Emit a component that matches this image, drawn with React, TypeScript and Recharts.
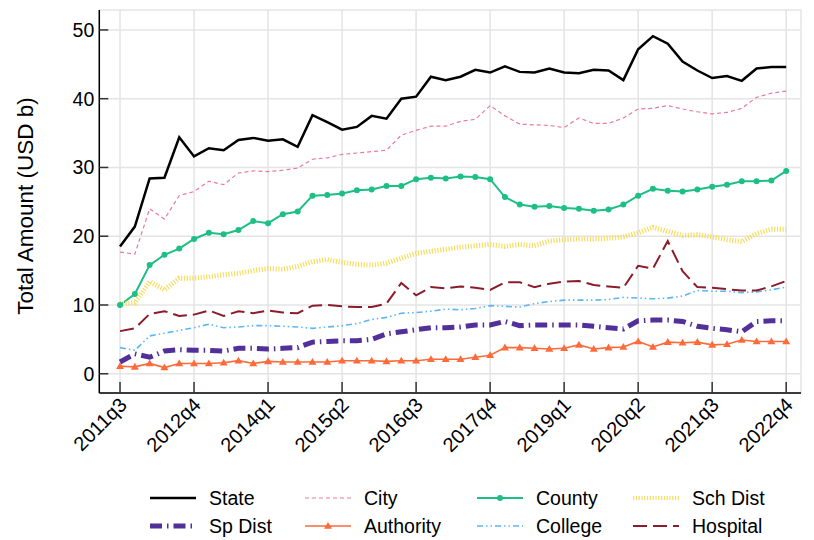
import { LineChart, Line, XAxis, YAxis, CartesianGrid } from 'recharts';

const QUARTERS = [
  '2011q3', '2011q4', '2012q1', '2012q2', '2012q3', '2012q4', '2013q1', '2013q2', '2013q3', '2013q4',
  '2014q1', '2014q2', '2014q3', '2014q4', '2015q1', '2015q2', '2015q3', '2015q4', '2016q1', '2016q2',
  '2016q3', '2016q4', '2017q1', '2017q2', '2017q3', '2017q4', '2018q1', '2018q2', '2018q3', '2018q4',
  '2019q1', '2019q2', '2019q3', '2019q4', '2020q1', '2020q2', '2020q3', '2020q4', '2021q1', '2021q2',
  '2021q3', '2021q4', '2022q1', '2022q2', '2022q3', '2022q4',
];

const X_TICK_LABELS = ['2011q3', '2012q4', '2014q1', '2015q2', '2016q3', '2017q4', '2019q1', '2020q2', '2021q3', '2022q4'];
const Y_TICKS = [0, 10, 20, 30, 40, 50];

// USD billions
const STATE = [18.5, 21.4, 28.4, 28.5, 34.4, 31.6, 32.8, 32.5, 34.0, 34.3, 33.9, 34.1, 33.0, 37.6, 36.6, 35.5, 35.9, 37.5, 37.1, 40.0, 40.3, 43.2, 42.7, 43.2, 44.2, 43.8, 44.7, 43.9, 43.8, 44.4, 43.8, 43.7, 44.2, 44.1, 42.7, 47.2, 49.1, 48.0, 45.4, 44.1, 43.0, 43.3, 42.6, 44.4, 44.6, 44.6];
const CITY = [17.7, 17.4, 24.0, 22.5, 25.9, 26.5, 28.0, 27.5, 29.2, 29.5, 29.4, 29.6, 29.9, 31.2, 31.4, 31.9, 32.1, 32.3, 32.5, 34.7, 35.4, 36.0, 36.0, 36.7, 37.0, 39.0, 37.5, 36.3, 36.2, 36.1, 35.8, 37.2, 36.4, 36.4, 37.2, 38.5, 38.6, 39.0, 38.5, 38.1, 37.8, 38.0, 38.6, 40.2, 40.8, 41.1];
const COUNTY = [10.0, 11.6, 15.8, 17.3, 18.2, 19.6, 20.5, 20.3, 20.9, 22.2, 21.9, 23.2, 23.6, 25.9, 26.0, 26.2, 26.7, 26.8, 27.3, 27.3, 28.3, 28.5, 28.4, 28.7, 28.6, 28.3, 25.7, 24.6, 24.3, 24.4, 24.1, 24.0, 23.7, 23.9, 24.6, 25.9, 26.9, 26.6, 26.5, 26.8, 27.2, 27.5, 28.0, 28.0, 28.1, 29.5];
const SCH_DIST = [10.2, 10.3, 13.4, 12.2, 13.9, 13.9, 14.1, 14.4, 14.6, 15.0, 15.3, 15.2, 15.6, 16.3, 16.6, 16.2, 15.9, 15.8, 16.1, 16.8, 17.5, 17.8, 18.1, 18.4, 18.6, 18.8, 18.5, 18.8, 18.6, 19.3, 19.5, 19.6, 19.6, 19.7, 19.9, 20.5, 21.3, 20.7, 20.1, 20.2, 19.9, 19.5, 19.2, 20.4, 21.0, 21.0];
const SP_DIST = [1.7, 2.9, 2.4, 3.3, 3.5, 3.4, 3.4, 3.3, 3.7, 3.7, 3.6, 3.7, 3.8, 4.6, 4.7, 4.8, 4.8, 5.0, 5.8, 6.1, 6.4, 6.7, 6.7, 6.8, 7.1, 7.1, 7.6, 7.0, 7.1, 7.1, 7.1, 7.1, 6.9, 6.7, 6.5, 7.7, 7.8, 7.8, 7.6, 6.9, 6.6, 6.4, 6.1, 7.6, 7.7, 7.7];
const AUTHORITY = [1.1, 1.0, 1.5, 0.9, 1.5, 1.5, 1.5, 1.6, 1.9, 1.5, 1.8, 1.7, 1.7, 1.7, 1.7, 1.9, 1.9, 1.9, 1.8, 1.9, 1.9, 2.1, 2.1, 2.1, 2.4, 2.7, 3.8, 3.8, 3.7, 3.6, 3.7, 4.2, 3.6, 3.8, 3.9, 4.7, 3.9, 4.6, 4.5, 4.6, 4.2, 4.3, 4.9, 4.7, 4.7, 4.7];
const COLLEGE = [3.8, 3.4, 5.5, 5.9, 6.3, 6.7, 7.2, 6.7, 6.8, 7.0, 7.0, 6.9, 6.8, 6.6, 6.8, 7.0, 7.3, 7.9, 8.2, 8.8, 8.9, 9.1, 9.4, 9.3, 9.5, 9.9, 9.8, 9.7, 10.2, 10.5, 10.7, 10.7, 10.7, 10.8, 11.1, 11.0, 10.9, 11.0, 11.3, 12.1, 12.0, 12.0, 11.8, 11.9, 12.2, 12.6];
const HOSPITAL = [6.2, 6.6, 8.7, 9.1, 8.4, 8.6, 9.2, 8.4, 9.1, 8.8, 9.2, 8.9, 8.8, 9.9, 10.0, 9.8, 9.7, 9.7, 10.2, 13.2, 11.4, 12.6, 12.4, 12.7, 12.5, 12.2, 13.3, 13.3, 12.6, 13.1, 13.4, 13.5, 12.9, 12.7, 12.5, 15.7, 15.3, 19.3, 14.9, 12.6, 12.5, 12.3, 12.1, 12.1, 12.7, 13.5];

const FONT = '"Liberation Sans", Arial, Helvetica, sans-serif';

type Marker = 'none' | 'dot' | 'triangle';
type SeriesStyle = { key: string; label: string; values: number[]; color: string; width: number; dash?: string; marker: Marker };

const SERIES: SeriesStyle[] = [
  { key: 'state', label: 'State', values: STATE, color: '#000000', width: 2.5, marker: 'none' },
  { key: 'city', label: 'City', values: CITY, color: '#ea7aa0', width: 1.2, dash: '4 3', marker: 'none' },
  { key: 'county', label: 'County', values: COUNTY, color: '#1dbf84', width: 2, marker: 'dot' },
  { key: 'schdist', label: 'Sch Dist', values: SCH_DIST, color: '#f9dd60', width: 5, dash: '1.2 1.6', marker: 'none' },
  { key: 'spdist', label: 'Sp Dist', values: SP_DIST, color: '#51309a', width: 5, dash: '12 5 1.5 5', marker: 'none' },
  { key: 'authority', label: 'Authority', values: AUTHORITY, color: '#ff6a3a', width: 1.6, marker: 'triangle' },
  { key: 'college', label: 'College', values: COLLEGE, color: '#5cb6f8', width: 1.6, dash: '6 3 1.5 3 1.5 3', marker: 'none' },
  { key: 'hospital', label: 'Hospital', values: HOSPITAL, color: '#8a1c2c', width: 2, dash: '14 6', marker: 'none' },
];

// legend grid: rows x columns, in reference order
const LEGEND_ORDER = ['state', 'city', 'county', 'schdist', 'spdist', 'authority', 'college', 'hospital'];

const data = QUARTERS.map((q, i) => {
  const row: Record<string, string | number> = { idx: i, q };
  SERIES.forEach((s) => { row[s.key] = s.values[i]; });
  return row;
});

const tickIdx = X_TICK_LABELS.map((l) => QUARTERS.indexOf(l));

const YTick = (props: any) => {
  const { x, y, payload } = props;
  return (
    <g>
      <line x1={x} x2={x + 9} y1={y} y2={y} stroke="#333" strokeWidth={1.5} />
      <text x={x - 5} y={y} dy="0.36em" textAnchor="end" fontSize={19.5} fontFamily={FONT} fill="#000">
        {payload.value}
      </text>
    </g>
  );
};

const XTick = (props: any) => {
  const { x, y, payload } = props;
  const tx = x + 8;
  const ty = y + 13;
  return (
    <g>
      <line x1={x} x2={x} y1={y} y2={y - 11} stroke="#333" strokeWidth={1.5} />
      <text x={tx} y={ty} transform={`rotate(-45 ${tx} ${ty})`} textAnchor="end" fontSize={20} fontFamily={FONT} fill="#000">
        {QUARTERS[payload.value]}
      </text>
    </g>
  );
};

const Triangle = ({ cx, cy, color, size = 4 }: { cx: number; cy: number; color: string; size?: number }) => (
  <path d={`M${cx},${cy - size} L${cx + size},${cy + size * 0.7} L${cx - size},${cy + size * 0.7} Z`} fill={color} />
);

function renderDot(s: SeriesStyle) {
  if (s.marker === 'dot') {
    return (p: any) => <circle key={`${s.key}-${p.index}`} cx={p.cx} cy={p.cy} r={3} fill={s.color} />;
  }
  if (s.marker === 'triangle') {
    return (p: any) => <Triangle key={`${s.key}-${p.index}`} cx={p.cx} cy={p.cy} color={s.color} />;
  }
  return false;
}

const LEGEND_COLS = [150, 305, 477, 633];
const LEGEND_ROWS = [498, 526];

function LegendBox() {
  return (
    <svg width={814} height={540} style={{ position: 'absolute', left: 0, top: 0, pointerEvents: 'none' }}>
      {LEGEND_ORDER.map((key, i) => {
        const s = SERIES.find((d) => d.key === key)!;
        const x = LEGEND_COLS[i % 4];
        const y = LEGEND_ROWS[Math.floor(i / 4)];
        return (
          <g key={key}>
            <line x1={x} x2={x + 46} y1={y} y2={y} stroke={s.color} strokeWidth={s.key === 'schdist' ? 4 : s.width} strokeDasharray={s.dash} />
            {s.marker === 'dot' && <circle cx={x + 23} cy={y} r={3} fill={s.color} />}
            {s.marker === 'triangle' && <Triangle cx={x + 23} cy={y} color={s.color} />}
            <text x={x + 59} y={y} dy="0.36em" fontSize={19.5} fontFamily={FONT} fill="#000">{s.label}</text>
          </g>
        );
      })}
    </svg>
  );
}

export default function App() {
  return (
    <div style={{ position: 'absolute', left: 0, top: 0, width: 814, height: 540, background: '#fff' }}>
      <LineChart width={814} height={540} data={data} margin={{ top: 10, right: 13, bottom: 87, left: 0 }}>
        <CartesianGrid stroke="#e4e4e4" strokeWidth={1.5} />
        <XAxis
          dataKey="idx" type="number" domain={[-1.4, 46.0]} ticks={tickIdx} allowDataOverflow
          height={60} tickSize={0} tickMargin={0} tickLine={false} interval={0}
          axisLine={{ stroke: '#000', strokeWidth: 1.5 }} tick={<XTick />}
        />
        <YAxis
          type="number" domain={[-2.8, 52.9]} ticks={Y_TICKS} allowDataOverflow
          width={99.3} tickSize={0} tickMargin={0} tickLine={false} interval={0}
          axisLine={{ stroke: '#000', strokeWidth: 1.5 }} tick={<YTick />}
        />
        {SERIES.map((s) => (
          <Line
            key={s.key} type="linear" dataKey={s.key} name={s.label}
            stroke={s.color} strokeWidth={s.width} strokeDasharray={s.dash}
            dot={renderDot(s)} activeDot={false} isAnimationActive={false}
          />
        ))}
        <text
          x={25} y={206} transform="rotate(-90 25 206)" textAnchor="middle" dominantBaseline="central"
          fontSize={22.5} fontFamily={FONT} fill="#000"
        >
          Total Amount (USD b)
        </text>
      </LineChart>
      <LegendBox />
    </div>
  );
}
